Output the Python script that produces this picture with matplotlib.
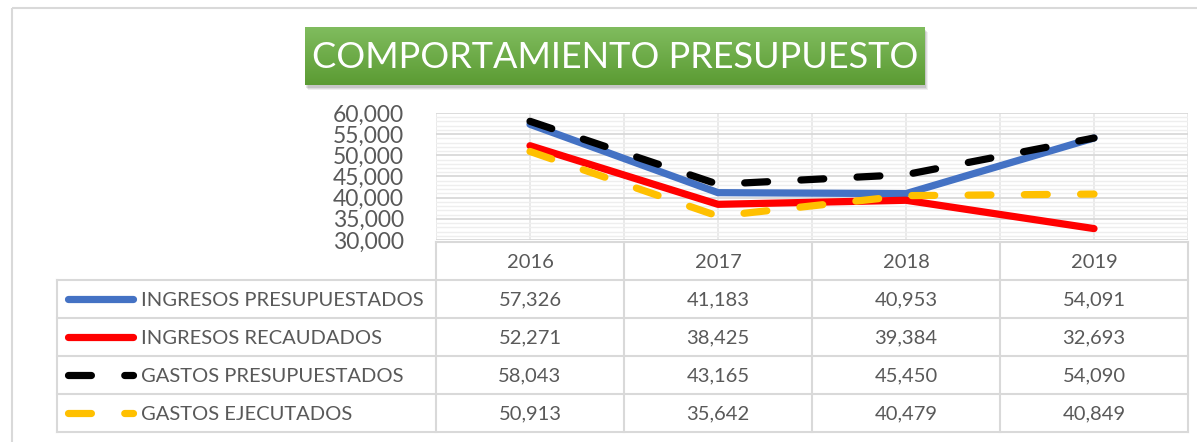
import numpy as np
import matplotlib
matplotlib.use("Agg")
import matplotlib.pyplot as plt
from matplotlib.patches import Rectangle
from matplotlib.ticker import FuncFormatter, MultipleLocator

# datos del grafico
years = ["2016", "2017", "2018", "2019"]
series_names = ["INGRESOS PRESUPUESTADOS", "INGRESOS RECAUDADOS",
                "GASTOS PRESUPUESTADOS", "GASTOS EJECUTADOS"]
ingresos_presupuestados = [57326, 41183, 40953, 54091]
ingresos_recaudados = [52271, 38425, 39384, 32693]
gastos_presupuestados = [58043, 43165, 45450, 54090]
gastos_ejecutados = [50913, 35642, 40479, 40849]
title = "COMPORTAMIENTO PRESUPUESTO"

series = [ingresos_presupuestados, ingresos_recaudados,
          gastos_presupuestados, gastos_ejecutados]
colors = ["#4472C4", "#FF0000", "#000000", "#FFC000"]
dashed = [False, False, True, True]

plt.rcParams["font.family"] = ["Lato", "DejaVu Sans"]
plt.rcParams["lines.scale_dashes"] = False
txt = "#595959"
grid = "#D9D9D9"

W, H = 1197, 442
fig = plt.figure(figsize=(W / 100, H / 100), dpi=100)


def box(l, t, r, b):
    return [l / W, 1 - b / H, (r - l) / W, (b - t) / H]


# capa en pixeles para marco, tabla y leyenda
ov = fig.add_axes([0, 0, 1, 1], zorder=0)
ov.set_xlim(0, W)
ov.set_ylim(H, 0)
ov.axis("off")
ov.add_patch(Rectangle((12, 8), W + 20, H + 20, fill=False, ec=grid, lw=1.5))

# area del grafico
L, R, T, B = 436, 1188, 113, 240
ax = fig.add_axes(box(L, T, R, B), zorder=2)
ax.patch.set_alpha(0)
x = np.arange(len(years))
for vals, c, d in zip(series, colors, dashed):
    ln, = ax.plot(x, vals, color=c, lw=5.2, solid_capstyle="round",
                  dash_capstyle="round", solid_joinstyle="round",
                  clip_on=False)
    if d:
        ln.set_dashes((16.5, 24))
ax.set_xlim(-0.5, len(years) - 0.5)
ax.set_ylim(30000, 60000)
ax.set_yticks(np.arange(30000, 60001, 5000))
ax.yaxis.set_minor_locator(MultipleLocator(1000))
ax.yaxis.set_major_formatter(FuncFormatter(lambda v, p: f"{v:,.0f}"))
ax.set_xticks(np.arange(-0.5, len(years), 0.5))
ax.set_xticklabels([])
ax.tick_params(axis="both", which="both", length=0)
ax.tick_params(axis="y", pad=23, labelsize=16.5, labelcolor=txt)
ax.grid(axis="y", which="major", color=grid, lw=1.3)
ax.grid(axis="y", which="minor", color="#EEEEEE", lw=1)
ax.grid(axis="x", which="major", color="#E8E8E8", lw=1.3)
ax.set_axisbelow(True)
for s in ax.spines.values():
    s.set_visible(False)

# tabla de datos
col_w = (R - L) / len(years)
row_h = 38
top = 242
rows_top = top + row_h
bottom = rows_top + row_h * len(series)
lw_t = 1.5
fs = 14.5
ov.plot([L, R], [top, top], color=grid, lw=lw_t)
for i in range(len(series) + 1):
    y = rows_top + i * row_h
    ov.plot([57, R], [y, y], color=grid, lw=lw_t)
ov.plot([57, 57], [rows_top, bottom], color=grid, lw=lw_t)
for j in range(len(years) + 1):
    xx = L + j * col_w
    ov.plot([xx, xx], [top, bottom], color=grid, lw=lw_t)
for j, yr in enumerate(years):
    ov.text(L + (j + 0.5) * col_w, top + row_h / 2 + 1, yr, ha="center",
            va="center", fontsize=fs, color=txt)
for i, (name, vals, c, d) in enumerate(zip(series_names, series, colors, dashed)):
    yc = rows_top + (i + 0.5) * row_h
    ln, = ov.plot([67.5, 133], [yc, yc], color=c, lw=5.2, solid_capstyle="round",
                  dash_capstyle="round")
    if d:
        ln.set_dashes((16.5, 24))
    ov.text(141, yc + 1, name, ha="left", va="center", fontsize=fs, color=txt)
    for j, v in enumerate(vals):
        ov.text(L + (j + 0.5) * col_w, yc + 1, f"{v:,}", ha="center",
                va="center", fontsize=fs, color=txt)

# titulo con fondo verde degradado y sombra
for k, a in enumerate([0.10, 0.08, 0.06]):
    ov.add_patch(Rectangle((305 + 1 + k, 27 + 3 + k), 620, 58, fc="#000000",
                           ec="none", alpha=a, zorder=1))
tax = fig.add_axes(box(305, 27, 925, 85), zorder=3)
grad = np.linspace(0, 1, 100).reshape(-1, 1)
top_c = np.array([0x80, 0xBC, 0x5E]) / 255
bot_c = np.array([0x5B, 0x9B, 0x33]) / 255
img = top_c + grad[..., None] * (bot_c - top_c)
tax.imshow(img, aspect="auto", extent=[0, 1, 0, 1])
tax.set_xlim(0, 1)
tax.set_ylim(0, 1)
tax.axis("off")
tax.text(0.5, 0.47, title, ha="center", va="center", color="white",
         fontsize=26, fontweight="normal")

fig.savefig("out.png", dpi=100)
